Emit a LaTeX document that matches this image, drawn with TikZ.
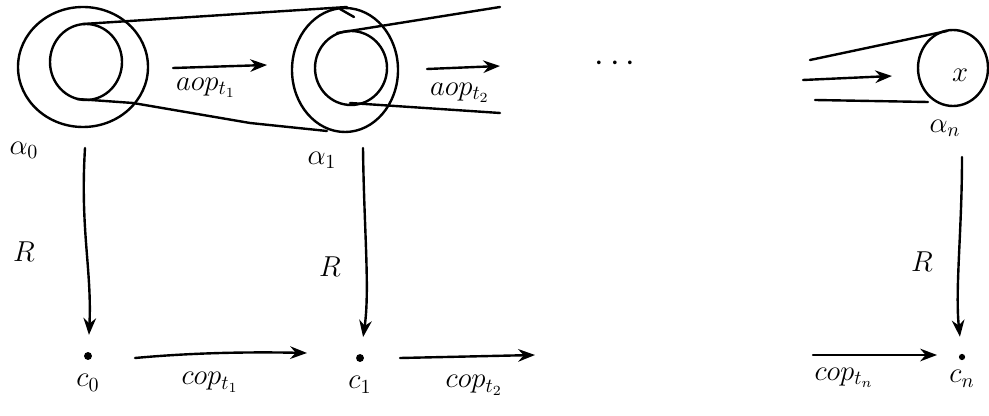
\documentclass[tikz,border=0pt]{standalone}
\usepackage{amsmath,amssymb}
\usepackage{tikz}
\usetikzlibrary{arrows.meta,calc,positioning}

\begin{document}
\begin{tikzpicture}[>=Stealth,x=0.5pt,y=-0.5pt,line width=1.2pt,line cap=round,line join=round,
  dot/.style={circle,fill,inner sep=1.4pt},
  lbl/.style={font=\Large,inner sep=1pt}]
\useasboundingbox (0,0) rectangle (989,416);
% top row: nested loops
\coordinate (a0) at (83,67); \coordinate (a1) at (345,70); \coordinate (an) at (953,68);
\draw (a0) ellipse [x radius=65,y radius=60];
\draw (86,62) ellipse [x radius=36,y radius=38];
\draw (a1) ellipse [x radius=53,y radius=62];
\draw (351,68) ellipse [x radius=36,y radius=37];
\draw (an) ellipse [x radius=35,y radius=38];
\draw (83,24)--(347,7); \draw (340,9)--(354,17);
\draw (77,99)--(133,103)--(250,123)--(327,131);
\draw (337,33)--(500,7);
\draw (350,103)--(500,113);
\draw (810,60)--(947,31);
\draw (815,100)--(928,102);
\node[lbl] (x) at (960,75) {$x$};
\draw[->] (173,68)--(267,65) node[lbl,below=4pt,pos=0.35]{$aop_{t_1}$};
\draw[->] (427,69)--(500,66) node[lbl,below=6pt,pos=0.45]{$aop_{t_2}$};
\draw[->] (803,80)--(892,76);
\node[font=\LARGE] (dots) at (618,64) {$\cdots$};
\node[lbl] (l0) at (24,150) {$\alpha_0$};
\node[lbl] (l1) at (322,160) {$\alpha_1$};
\node[lbl] (ln) at (945,128) {$\alpha_n$};
% bottom row
\node[dot] (c0) at (88,356) {}; \node[dot] (c1) at (360,358) {}; \node[dot,inner sep=1.1pt] (cn) at (962,357) {};
\node[lbl,below=5pt of c0] {$c_0$};
\node[lbl,below=5pt of c1] {$c_1$};
\node[lbl,below=3pt of cn] {$c_n$};
\coordinate (r0) at (85,148); \coordinate (r1) at (363,148); \coordinate (rn) at (962,157);
\draw[->,shorten >=8pt] (r0) .. controls (80,230) and (92,270) .. (c0);
\draw[->,shorten >=8pt] (r1) .. controls (364,230) and (370,290) .. (c1);
\draw[->,shorten >=8pt] (rn) .. controls (962,230) and (955,290) .. (cn);
\node[font=\Large] (R0) at (24,252) {$R$};
\node[font=\Large] (R1) at (330,267) {$R$};
\node[font=\Large] (Rn) at (922,262) {$R$};
\coordinate (e1) at (135,358); \coordinate (e2) at (400,358); \coordinate (en) at (813,355);
\draw[->] (e1) .. controls (200,352) and (260,352) .. (307,353) node[lbl,below=8pt,pos=0.4]{$cop_{t_1}$};
\draw[->] (e2)--(535,355) node[lbl,below=8pt,pos=0.55]{$cop_{t_2}$};
\draw[->] (en)--(937,355) node[lbl,below=5pt,pos=0.25]{$cop_{t_n}$};
\end{tikzpicture}
\end{document}
